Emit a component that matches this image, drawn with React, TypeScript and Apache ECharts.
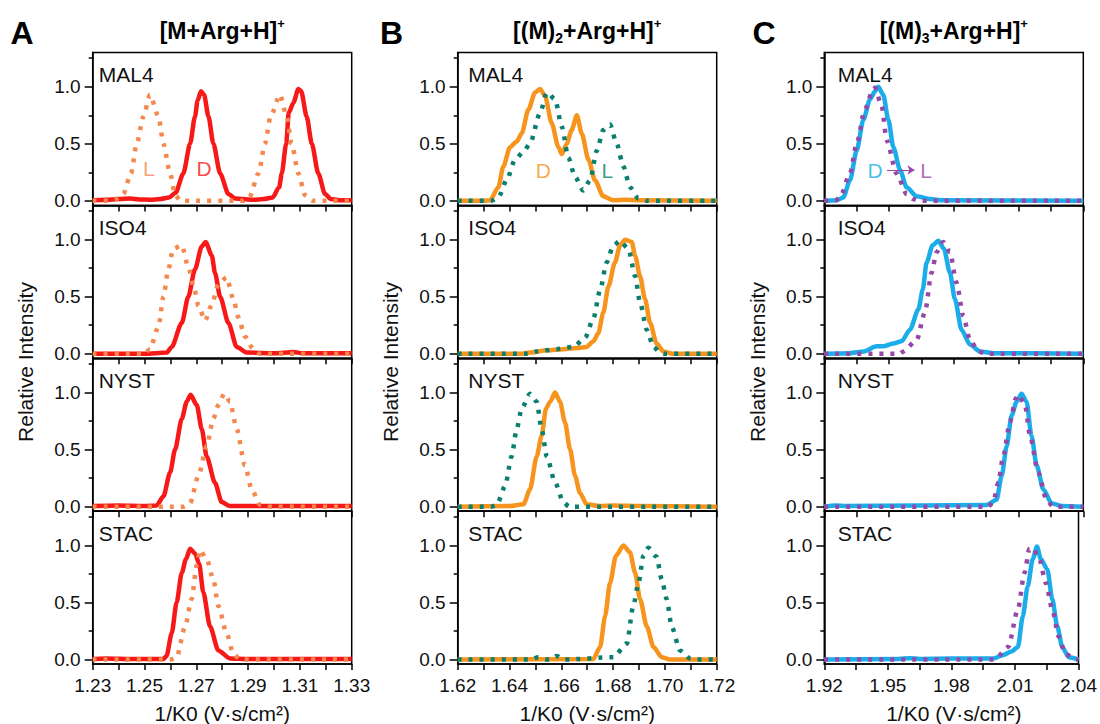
import React, { useEffect, useRef } from "react";
import * as echarts from "echarts";

// ---------- tick values ----------
const X_A_LABELS = [1.23, 1.25, 1.27, 1.29, 1.31, 1.33];
const X_A_TICKS = [1.23, 1.24, 1.25, 1.26, 1.27, 1.28, 1.29, 1.3, 1.31, 1.32, 1.33];
const X_B_LABELS = [1.62, 1.64, 1.66, 1.68, 1.7, 1.72];
const X_B_TICKS = [1.62, 1.63, 1.64, 1.65, 1.66, 1.67, 1.68, 1.69, 1.7, 1.71, 1.72];
const X_C_LABELS = [1.92, 1.95, 1.98, 2.01, 2.04];
const X_C_TICKS = [1.92, 1.935, 1.95, 1.965, 1.98, 1.995, 2.01, 2.025, 2.04];
const Y_LABELS = [0, 0.5, 1.0];
const Y_MINOR = [0.25, 0.75, 1.25];

const ROW_NAMES = ["MAL4", "ISO4", "NYST", "STAC"];
const COL_LETTERS = ["A", "B", "C"];

// ---------- column A : [M+Arg+H]+ ----------
const A_MAL4_D = [[1.23,0.005],[1.235,0.01],[1.24,0.015],[1.2445,0.02],[1.248,0.012],[1.252,0.01],[1.256,0.015],[1.2595,0.03],[1.262,0.07],[1.265,0.24],[1.2676,0.5],[1.2695,0.74],[1.2705,0.88],[1.2718,0.96],[1.273,0.93],[1.2747,0.74],[1.2766,0.5],[1.2792,0.24],[1.2824,0.06],[1.285,0.02],[1.288,0.015],[1.292,0.01],[1.296,0.015],[1.2995,0.03],[1.302,0.12],[1.303,0.24],[1.3047,0.5],[1.3057,0.77],[1.3075,0.86],[1.3094,0.98],[1.3105,0.96],[1.3126,0.74],[1.3146,0.5],[1.3171,0.24],[1.3197,0.06],[1.322,0.015],[1.326,0.005],[1.33,0.005]];
const A_MAL4_L = [[1.23,0],[1.236,0],[1.2395,0.02],[1.2418,0.06],[1.2448,0.24],[1.247,0.5],[1.2496,0.74],[1.2521,0.93],[1.2554,0.74],[1.2573,0.5],[1.2599,0.24],[1.2618,0.05],[1.264,0],[1.288,0],[1.2905,0.03],[1.294,0.24],[1.2965,0.5],[1.2987,0.74],[1.3023,0.93],[1.3049,0.74],[1.3068,0.5],[1.3094,0.24],[1.312,0.05],[1.315,0],[1.33,0]];
const A_ISO4_D = [[1.23,0],[1.25,0],[1.2586,0.01],[1.2605,0.06],[1.2644,0.27],[1.2669,0.5],[1.2695,0.74],[1.2721,0.94],[1.2736,0.98],[1.276,0.86],[1.2772,0.71],[1.2792,0.5],[1.2824,0.27],[1.2856,0.06],[1.2895,0.01],[1.3,0.005],[1.305,0.01],[1.3075,0.015],[1.311,0.005],[1.33,0.005]];
const A_ISO4_L = [[1.23,0],[1.25,0],[1.2521,0.04],[1.2554,0.24],[1.2573,0.5],[1.2592,0.74],[1.2611,0.92],[1.2644,0.95],[1.2669,0.76],[1.2693,0.56],[1.2708,0.42],[1.2734,0.29],[1.276,0.43],[1.2785,0.61],[1.2817,0.67],[1.2843,0.48],[1.2862,0.32],[1.2888,0.15],[1.292,0.04],[1.2946,0],[1.33,0]];
const A_NYST_D = [[1.23,0.005],[1.24,0.01],[1.25,0.005],[1.2547,0.01],[1.2573,0.09],[1.2599,0.3],[1.2618,0.5],[1.2644,0.77],[1.2663,0.92],[1.2678,0.98],[1.2702,0.89],[1.2721,0.68],[1.274,0.44],[1.2772,0.21],[1.2798,0.04],[1.283,0.005],[1.33,0.005]];
const A_NYST_L = [[1.23,0],[1.265,0],[1.2676,0.03],[1.2708,0.27],[1.274,0.53],[1.2766,0.77],[1.2785,0.89],[1.2808,0.99],[1.283,0.92],[1.2856,0.68],[1.2888,0.36],[1.2914,0.15],[1.2946,0.015],[1.297,0],[1.33,0]];
const A_STAC_D = [[1.23,0.005],[1.235,0.01],[1.245,0.005],[1.2573,0.005],[1.2585,0.03],[1.2605,0.23],[1.2624,0.5],[1.2644,0.76],[1.266,0.88],[1.2676,0.97],[1.2695,0.93],[1.2711,0.84],[1.2727,0.59],[1.2753,0.29],[1.2785,0.08],[1.283,0.01],[1.29,0.005],[1.33,0.005]];
const A_STAC_L = [[1.23,0],[1.26,0],[1.2624,0.02],[1.2657,0.29],[1.2682,0.53],[1.2702,0.83],[1.2714,0.96],[1.274,0.88],[1.2766,0.7],[1.2785,0.47],[1.2817,0.23],[1.2843,0.05],[1.2869,0],[1.33,0]];

// ---------- column B : [(M)2+Arg+H]+ ----------
const B_MAL4_D = [[1.62,0],[1.63,0],[1.6325,0.005],[1.6357,0.12],[1.6376,0.3],[1.6402,0.47],[1.6428,0.52],[1.6447,0.59],[1.6473,0.8],[1.6499,0.95],[1.6518,0.98],[1.6537,0.92],[1.6563,0.68],[1.6589,0.47],[1.6602,0.41],[1.6621,0.5],[1.664,0.62],[1.666,0.75],[1.6679,0.59],[1.6705,0.36],[1.673,0.18],[1.6762,0.04],[1.68,0.005],[1.685,0.01],[1.69,0.005],[1.72,0]];
const B_MAL4_L = [[1.62,0],[1.633,0],[1.6357,0.03],[1.6389,0.18],[1.6421,0.36],[1.6454,0.43],[1.6479,0.5],[1.6518,0.77],[1.6544,0.95],[1.6576,0.89],[1.6602,0.65],[1.6627,0.38],[1.6653,0.21],[1.6685,0.09],[1.6711,0.18],[1.6737,0.44],[1.6762,0.62],[1.6788,0.67],[1.6814,0.5],[1.684,0.3],[1.6865,0.12],[1.6898,0.02],[1.693,0],[1.72,0]];
const B_ISO4_D = [[1.62,0],[1.6441,0],[1.6479,0.01],[1.6544,0.03],[1.6608,0.04],[1.666,0.05],[1.6698,0.06],[1.6724,0.11],[1.6743,0.18],[1.6762,0.36],[1.6782,0.59],[1.6807,0.8],[1.6827,0.95],[1.6846,1.0],[1.6872,0.98],[1.6885,0.86],[1.6904,0.68],[1.6923,0.48],[1.6943,0.27],[1.6968,0.09],[1.6994,0.02],[1.703,0],[1.72,0]];
const B_ISO4_L = [[1.62,0],[1.647,0],[1.6505,0.02],[1.6582,0.04],[1.6647,0.06],[1.6692,0.14],[1.6724,0.31],[1.675,0.56],[1.6775,0.8],[1.6801,0.95],[1.6827,0.99],[1.6859,0.92],[1.6885,0.68],[1.6904,0.45],[1.693,0.21],[1.6956,0.06],[1.6981,0.01],[1.7,0],[1.72,0]];
const B_NYST_D = [[1.62,0],[1.64,0.005],[1.6454,0.02],[1.6479,0.15],[1.6505,0.44],[1.6524,0.62],[1.6541,0.86],[1.6557,0.92],[1.6576,1.0],[1.6595,0.92],[1.6614,0.74],[1.6634,0.5],[1.6653,0.27],[1.6672,0.12],[1.6698,0.02],[1.675,0.005],[1.68,0.01],[1.69,0.005],[1.72,0]];
const B_NYST_L = [[1.62,0],[1.633,0],[1.6351,0.015],[1.6383,0.18],[1.6408,0.44],[1.6428,0.68],[1.6447,0.86],[1.6479,0.99],[1.6505,0.92],[1.6524,0.68],[1.6544,0.44],[1.6576,0.21],[1.6608,0.04],[1.663,0],[1.72,0]];
const B_STAC_D = [[1.62,0],[1.6724,0.005],[1.675,0.11],[1.6769,0.38],[1.6788,0.67],[1.6811,0.91],[1.684,1.0],[1.6865,0.94],[1.6885,0.76],[1.6904,0.53],[1.693,0.29],[1.6956,0.11],[1.6988,0.02],[1.702,0],[1.72,0]];
const B_STAC_L = [[1.62,0],[1.648,0],[1.6511,0.02],[1.654,0],[1.6555,0],[1.6582,0.03],[1.661,0],[1.6801,0.02],[1.6853,0.14],[1.6878,0.47],[1.6898,0.67],[1.6917,0.91],[1.6936,0.98],[1.6968,0.9],[1.6988,0.7],[1.7007,0.53],[1.7026,0.29],[1.7058,0.08],[1.7097,0.01],[1.712,0],[1.72,0]];

// ---------- column C : [(M)3+Arg+H]+ ----------
const C_MAL4_D = [[1.92,0],[1.9257,0.005],[1.9288,0.03],[1.9319,0.18],[1.935,0.44],[1.9381,0.71],[1.9412,0.89],[1.9435,0.96],[1.945,1.0],[1.9473,0.93],[1.9497,0.71],[1.952,0.47],[1.9551,0.27],[1.9581,0.12],[1.9628,0.04],[1.969,0.015],[1.975,0.005],[2.04,0]];
const C_MAL4_L = [[1.92,0],[1.925,0],[1.9273,0.03],[1.9319,0.24],[1.935,0.5],[1.9388,0.8],[1.9427,0.98],[1.9435,0.99],[1.9466,0.83],[1.9489,0.53],[1.9535,0.24],[1.9581,0.06],[1.9612,0.015],[1.964,0],[2.04,0]];
const C_ISO4_D = [[1.92,0],[1.9319,0.005],[1.9381,0.02],[1.9442,0.065],[1.9473,0.065],[1.952,0.09],[1.9558,0.11],[1.9597,0.21],[1.9636,0.39],[1.9656,0.56],[1.9674,0.8],[1.9702,0.95],[1.9728,0.99],[1.9754,0.92],[1.9782,0.71],[1.9805,0.48],[1.9836,0.21],[1.9875,0.08],[1.9921,0.02],[1.998,0.005],[2.04,0]];
const C_ISO4_L = [[1.92,0],[1.955,0],[1.9566,0.02],[1.9628,0.12],[1.9666,0.36],[1.9697,0.71],[1.972,0.89],[1.9751,0.98],[1.9782,0.89],[1.9813,0.62],[1.9844,0.33],[1.9875,0.12],[1.9914,0.02],[1.995,0],[2.04,0]];
const C_NYST_D = [[1.92,0],[1.925,0.01],[1.93,0.005],[1.9952,0.015],[1.9998,0.06],[2.0022,0.27],[2.0045,0.53],[2.0068,0.8],[2.0091,0.92],[2.0114,0.99],[2.0137,0.92],[2.016,0.62],[2.0184,0.36],[2.0215,0.15],[2.0253,0.03],[2.03,0.005],[2.04,0]];
const C_NYST_L = [[1.92,0],[1.996,0],[1.9983,0.04],[2.0006,0.21],[2.0029,0.44],[2.006,0.74],[2.0088,0.95],[2.0099,0.98],[2.013,0.89],[2.0153,0.62],[2.0191,0.3],[2.023,0.06],[2.026,0],[2.04,0]];
const C_STAC_D = [[1.92,0],[1.955,0.005],[1.9605,0.012],[1.965,0.005],[1.98,0.008],[1.9998,0.01],[2.0045,0.04],[2.0083,0.07],[2.0114,0.11],[2.0137,0.38],[2.016,0.64],[2.0184,0.88],[2.0204,0.99],[2.0222,0.88],[2.0253,0.79],[2.0276,0.53],[2.03,0.29],[2.0323,0.11],[2.0354,0.02],[2.04,0]];
const C_STAC_L = [[1.92,0],[2.0,0],[2.0014,0.02],[2.0068,0.11],[2.0114,0.44],[2.0145,0.76],[2.0168,0.97],[2.0184,0.98],[2.0215,0.88],[2.0246,0.67],[2.0276,0.44],[2.0307,0.2],[2.0338,0.05],[2.0385,0],[2.04,0]];

// annotation tags (data coordinates)
const A_TAGS = [{ text: "L", x: 1.2517, y: 0.28, dotted: true }, { text: "D", x: 1.273, y: 0.28, dotted: false }];
const B_TAGS = [{ text: "D", x: 1.6531, y: 0.27, dotted: false }, { text: "L", x: 1.6778, y: 0.27, dotted: true }];
const C_TAGS = [{ text: "D", x: 1.9435, y: 0.27, dotted: false }, { text: "L", x: 1.9672, y: 0.27, dotted: true }];
const C_ARROW = [[1.949, 0.27], [1.9618, 0.27]];

const FONT = "'Liberation Sans', Arial, Helvetica, sans-serif";

const COLS = [
  { title: "{m|[M+Arg+H]}{p|+}", min: 1.23, max: 1.33, labels: X_A_LABELS, ticks: X_A_TICKS,
    solidColor: "#F71818", dottedColor: "#F4884E", nameOffset: 6,
    data: [[A_MAL4_D, A_MAL4_L], [A_ISO4_D, A_ISO4_L], [A_NYST_D, A_NYST_L], [A_STAC_D, A_STAC_L]], tags: A_TAGS },
  { title: "{m|[(M)}{s|2}{m|+Arg+H]}{p|+}", min: 1.62, max: 1.72, labels: X_B_LABELS, ticks: X_B_TICKS,
    solidColor: "#F7941D", dottedColor: "#0A7F6E", nameOffset: 10.6,
    data: [[B_MAL4_D, B_MAL4_L], [B_ISO4_D, B_ISO4_L], [B_NYST_D, B_NYST_L], [B_STAC_D, B_STAC_L]], tags: B_TAGS },
  { title: "{m|[(M)}{s|3}{m|+Arg+H]}{p|+}", min: 1.92, max: 2.04, labels: X_C_LABELS, ticks: X_C_TICKS,
    solidColor: "#1AADEA", dottedColor: "#9747A6", nameOffset: 13.4,
    data: [[C_MAL4_D, C_MAL4_L], [C_ISO4_D, C_ISO4_L], [C_NYST_D, C_NYST_L], [C_STAC_D, C_STAC_L]], tags: C_TAGS },
];

const GRID_LEFT = [92.7, 457.7, 824.3];
const GRID_W = 259;
const GRID_TOP0 = 52.5;
const GRID_H = 152.9;
const Y_MIN = -0.04;
const Y_MAX = 1.3;

function buildOption() {
  const grid: any[] = [];
  const xAxis: any[] = [];
  const yAxis: any[] = [];
  const series: any[] = [];
  const graphic: any[] = [];
  const black = "#111";

  COLS.forEach((col, c) => {
    const left = GRID_LEFT[c];
    const cx = left + GRID_W / 2;
    graphic.push({
      type: "text", x: [22, 391.5, 764][c], y: 33,
      style: { text: COL_LETTERS[c], fontFamily: FONT, fontSize: 32, fontWeight: "bold", fill: "#000", align: "center", verticalAlign: "middle" },
    });
    graphic.push({
      type: "text", x: cx, y: 31,
      style: {
        text: col.title, align: "center", verticalAlign: "middle",
        rich: {
          m: { fontFamily: FONT, fontSize: 23, fontWeight: "bold", fill: "#000", lineHeight: 28, color: "#000" },
          p: { fontFamily: FONT, fontSize: 13, fontWeight: "bold", fill: "#000", lineHeight: 13, verticalAlign: "top", color: "#000" },
          s: { fontFamily: FONT, fontSize: 14, fontWeight: "bold", fill: "#000", lineHeight: 8, verticalAlign: "bottom", color: "#000" },
        },
      },
    });
    graphic.push({
      type: "text", x: left - 67, y: 362, rotation: Math.PI / 2,
      style: { text: "Relative Intensity", fontFamily: FONT, fontSize: 21, fill: black, align: "center", verticalAlign: "middle" },
    });
    graphic.push({
      type: "text", x: cx, y: 713,
      style: { text: "1/K0 (V·s/cm²)", fontFamily: FONT, fontSize: 21, fill: black, align: "center", verticalAlign: "middle" },
    });

    for (let r = 0; r < 4; r++) {
      const gi = c * 4 + r;
      const top = GRID_TOP0 + r * GRID_H;
      grid.push({
        left, top, width: GRID_W, height: GRID_H,
        show: true, borderColor: "#000", borderWidth: 1.5, backgroundColor: "transparent", containLabel: false,
      });
      xAxis.push({
        type: "value", gridIndex: gi, min: col.min, max: col.max,
        axisLine: { show: true, onZero: false, lineStyle: { color: "#000", width: 1.5 } },
        axisTick: { show: true, inside: false, length: 6, customValues: col.ticks, lineStyle: { color: "#000", width: 1.5 } },
        axisLabel: {
          show: r === 3, customValues: col.labels, margin: 12, fontSize: 19, fontFamily: FONT, color: black,
          formatter: (v: number) => v.toFixed(2),
        },
        splitLine: { show: false },
      });
      yAxis.push({
        type: "value", gridIndex: gi, min: Y_MIN, max: Y_MAX, position: "left",
        axisLine: { show: true, onZero: false, lineStyle: { color: "#000", width: 1.5 } },
        axisTick: { show: true, inside: false, length: 8, customValues: Y_LABELS, lineStyle: { color: "#000", width: 1.5 } },
        axisLabel: { show: true, customValues: Y_LABELS, margin: 12, fontSize: 19, fontFamily: FONT, color: black, formatter: (v: number) => v.toFixed(1) },
        splitLine: { show: false },
      });
      yAxis.push({
        type: "value", gridIndex: gi, min: Y_MIN, max: Y_MAX, position: "left", offset: 0,
        axisLine: { show: false },
        axisTick: { show: true, inside: false, length: 4, customValues: Y_MINOR, lineStyle: { color: "#000", width: 1.5 } },
        axisLabel: { show: false },
        splitLine: { show: false },
      });

      graphic.push({
        type: "text", x: left + col.nameOffset, y: top + 22,
        style: { text: ROW_NAMES[r], fontFamily: FONT, fontSize: 21, fill: black, align: "left", verticalAlign: "middle" },
      });

      const [solid, dotted] = col.data[r];
      series.push({
        type: "line", xAxisIndex: gi, yAxisIndex: gi * 2, data: solid, showSymbol: false, symbol: "none",
        smooth: 0.25, smoothMonotone: "x",
        lineStyle: { color: col.solidColor, width: 4.5, join: "round" }, z: 2, silent: true,
      });
      const dottedSeries: any = {
        type: "line", xAxisIndex: gi, yAxisIndex: gi * 2, data: dotted, showSymbol: false, symbol: "none",
        smooth: 0.25, smoothMonotone: "x",
        lineStyle: { color: col.dottedColor, width: 4.5, type: [4, 7], cap: "butt" }, z: 3, silent: true,
      };
      if (c === 2 && r === 0) {
        dottedSeries.markLine = {
          silent: true, symbol: ["none", "arrow"], symbolSize: 7, animation: false,
          lineStyle: { color: col.dottedColor, width: 1, type: "solid" },
          label: { show: false },
          data: [[{ coord: C_ARROW[0] }, { coord: C_ARROW[1] }]],
        };
      }
      series.push(dottedSeries);

      if (r === 0) {
        col.tags.forEach((t) => {
          series.push({
            type: "scatter", xAxisIndex: gi, yAxisIndex: gi * 2, data: [[t.x, t.y]], symbolSize: 1,
            itemStyle: { color: "rgba(0,0,0,0)" }, silent: true, z: 4,
            label: { show: true, position: "inside", formatter: t.text, fontFamily: FONT, fontSize: 21, color: t.dotted ? col.dottedColor : col.solidColor },
          });
        });
      }
    }
  });

  return {
    animation: false,
    backgroundColor: "#fff",
    grid, xAxis, yAxis, series, graphic,
  };
}

export default function App() {
  const ref = useRef<HTMLDivElement>(null);
  useEffect(() => {
    if (!ref.current) return;
    const chart = echarts.init(ref.current, undefined, { renderer: "svg" });
    chart.setOption(buildOption() as any);
    return () => chart.dispose();
  }, []);
  return <div ref={ref} style={{ position: "absolute", left: 0, top: 0, width: 1100, height: 724 }} />;
}
